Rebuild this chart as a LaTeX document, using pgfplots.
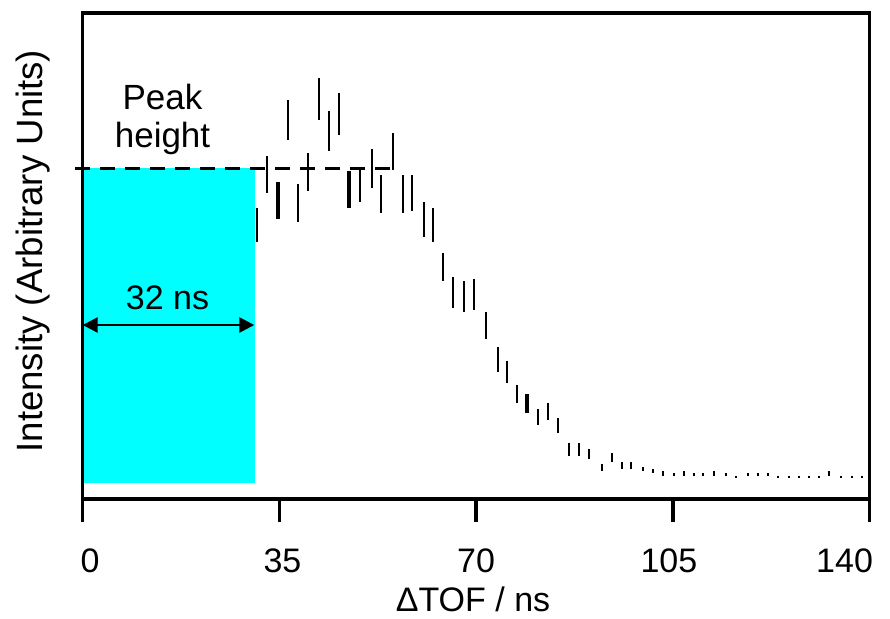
\documentclass[border=0pt]{standalone}
\usepackage{fontspec}
\setmainfont{Liberation Sans}
\usepackage{pgfplots}
\usepackage{pgfplotstable}
\pgfplotsset{compat=1.18}
\usetikzlibrary{arrows.meta}
\definecolor{aqua}{RGB}{0,255,255}

\pgfplotstableread{
x y e
31.06 274 16.7
32.79 324.8 18.5
36.58 379 20
38.30 296.2 18.8
40.03 327 18.7
42.04 400.2 21.2
43.82 368.2 19.8
45.54 384.7 21
49.33 314 16.7
51.41 330.5 19.5
53.12 305 18.7
55.20 347.3 18.3
56.93 305.2 18.8
58.64 306 17.7
60.72 279.8 17.5
62.41 274.1 16.6
64.10 232.2 14.3
65.82 206.8 15.5
67.89 202.5 15.5
69.61 204.7 15.7
71.75 173.5 13.5
73.83 139.5 12.2
75.54 127.3 11
77.26 105.2 8.8
81.05 82 8
82.78 87.7 8.7
84.50 73.2 7.5
86.57 49.9 6.6
88.33 49.9 6.6
90.13 44.8 5.2
92.44 31.3 3.4
94.16 41.2 4.5
95.89 33.3 3.4
97.54 33.3 3.4
99.73 30.2 2.2
101.41 27.7 2.0
103.18 25.7 2.3
105.25 24.5 1.2
106.97 25.7 2.3
108.70 24.5 1.2
110.41 24.5 1.2
112.37 25.7 2.3
114.45 24.5 1.2
116.22 22.3 1.0
118.36 24.5 1.2
120.09 24.5 1.2
121.87 24.5 1.2
123.70 22.3 1.0
125.60 22.3 1.0
127.38 22.3 1.0
129.16 22.3 1.0
131.04 22.3 1.0
132.82 25.7 2.3
134.90 22.3 1.0
136.81 22.3 1.0
138.70 22.3 1.0
}\datanormal

\pgfplotstableread{
x y e
34.69 298.3 18.7
47.43 309.3 18.7
79.10 95.3 9.7
}\datathick

% shifts a tick label by half of #1
\newcommand{\sh}[2]{\makebox[0pt][c]{\hspace*{#1}#2}}

\begin{document}
\begin{tikzpicture}
\path[use as bounding box] (-41.35pt,-59.5pt) rectangle (403.65pt,249.5pt);
\begin{axis}[
  at={(0,0)}, anchor=south west,
  scale only axis,
  width=393.45pt, height=243pt,
  xmin=0, xmax=140, ymin=0, ymax=486,
  clip=false,
  axis on top,
  axis line style={line width=1.8pt, black},
  xtick={0,35,70,105,140},
  xticklabels={\sh{7.3pt}{0},\sh{3pt}{35},\sh{0pt}{70},\sh{-4pt}{105},\sh{-25pt}{140}},
  xtick pos=bottom,
  ytick=\empty,
  tick align=outside,
  major tick length=11.5pt,
  x tick style={line width=1.8pt, black},
  xticklabel style={anchor=base, yshift=-25pt, font=\fontsize{17pt}{20pt}\selectfont},
  xlabel={ΔTOF / ns},
  xlabel style={at={(axis description cs:0.496,-0.231)}, anchor=base, font=\fontsize{17pt}{20pt}\selectfont},
  ylabel={Intensity (Arbitrary Units)},
  ylabel style={at={(axis description cs:-0.0517,0.51)}, rotate=0, anchor=base, font=\fontsize{18.3pt}{22pt}\selectfont},
]
\fill[aqua] (axis cs:0,16) rectangle (axis cs:30.66,330.7);
\draw[black, line width=1.8pt, dash pattern=on 7.5pt off 5pt] (axis cs:-1.37,330.7) -- (axis cs:54.6,330.7);
\draw[black, line width=1.3pt, {Triangle[length=7.5pt,width=7.5pt]}-{Triangle[length=7.5pt,width=7.5pt]}] (axis cs:0,174) -- (axis cs:30.53,174);
\node[anchor=base, font=\fontsize{17pt}{20pt}\selectfont] at (axis cs:15.09,189.7) {32 ns};
\node[anchor=base, font=\fontsize{17.5pt}{20pt}\selectfont] at (axis cs:14.2,389.7) {Peak};
\node[anchor=base, font=\fontsize{17.5pt}{20pt}\selectfont] at (axis cs:14.2,351.3) {height};
\addplot[draw=none, mark=none,
  error bars/.cd, y dir=both, y explicit, error mark=none,
  error bar style={draw=black, line width=1pt, solid}]
  table[x=x, y=y, y error=e] {\datanormal};
\addplot[draw=none, mark=none,
  error bars/.cd, y dir=both, y explicit, error mark=none,
  error bar style={draw=black, line width=2pt, solid}]
  table[x=x, y=y, y error=e] {\datathick};
\end{axis}
\end{tikzpicture}
\end{document}
